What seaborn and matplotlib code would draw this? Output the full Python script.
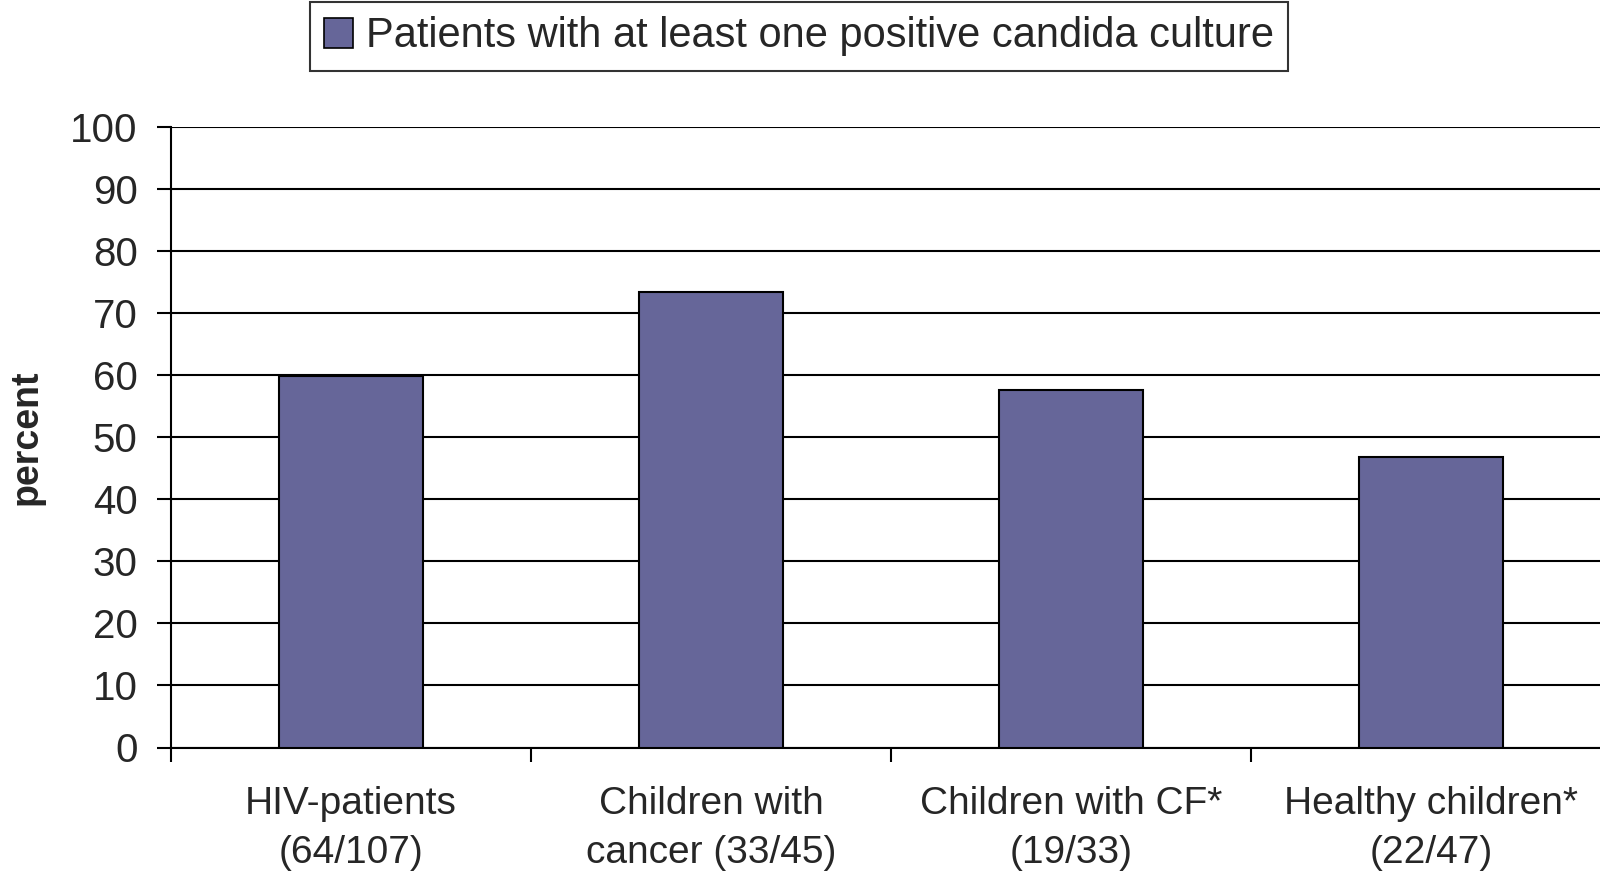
import matplotlib
matplotlib.use("Agg")
import matplotlib.pyplot as plt
import matplotlib.patches as mpatches
import seaborn as sns
import pandas as pd

# data
groups = ["HIV-patients\n(64/107)", "Children with\ncancer (33/45)",
          "Children with CF*\n(19/33)", "Healthy children*\n(22/47)"]
percent = [59.8, 73.3, 57.6, 46.8]
y_ticks = [0, 10, 20, 30, 40, 50, 60, 70, 80, 90, 100]
legend_label = "Patients with at least one positive candida culture"

df = pd.DataFrame({"group": groups, "percent": percent})

sns.set_style("white")
plt.rcParams["font.family"] = ["Liberation Sans", "DejaVu Sans"]

fig = plt.figure(figsize=(16, 8.75), dpi=100)
ax = fig.add_axes([171 / 1600, 1 - 747.5 / 875, 1440 / 1600, (747.5 - 126.5) / 875])

bar_color = "#666699"
sns.barplot(data=df, x="group", y="percent", color=bar_color, saturation=1,
            width=0.4, edgecolor="black", linewidth=1.5, ax=ax, zorder=3)

ax.set_xlim(-0.5, 3.5)
ax.set_ylim(0, 100)
ax.set_yticks(y_ticks)
ax.yaxis.grid(True, color="black", linewidth=1.5, zorder=0)
ax.set_axisbelow(True)

for s in ["top", "right"]:
    ax.spines[s].set_visible(False)
for s in ["left", "bottom"]:
    ax.spines[s].set_color("black")
    ax.spines[s].set_linewidth(1.5)

# excel-like ticks: y ticks outside, x ticks between the categories
ax.tick_params(axis="y", left=True, length=10, width=1.5, color="black", labelsize=29, pad=14)
ax.tick_params(axis="x", which="major", bottom=False, length=0, labelsize=28, pad=28)
ax.set_xticks([-0.5, 0.5, 1.5, 2.5, 3.5], minor=True)
ax.tick_params(axis="x", which="minor", bottom=True, length=10, width=1.5, color="black")
ax.set_xlabel("")
for lab in ax.get_xticklabels():
    lab.set_linespacing(1.45)

ax.set_ylabel("percent", fontsize=27, fontweight="bold")
ax.yaxis.set_label_coords(-0.0875, 0.5)

handle = mpatches.Patch(facecolor=bar_color, edgecolor="black", linewidth=1.2)
leg = fig.legend([handle], [legend_label], loc="center", bbox_to_anchor=(799 / 1600, 1 - 36.5 / 875),
                 fontsize=30, frameon=True, fancybox=False, handlelength=0.7, handleheight=0.7,
                 handletextpad=0.3, borderpad=0.35, borderaxespad=0)
leg.get_frame().set_edgecolor("black")
leg.get_frame().set_linewidth(1.5)

fig.savefig("out.png", dpi=100)
